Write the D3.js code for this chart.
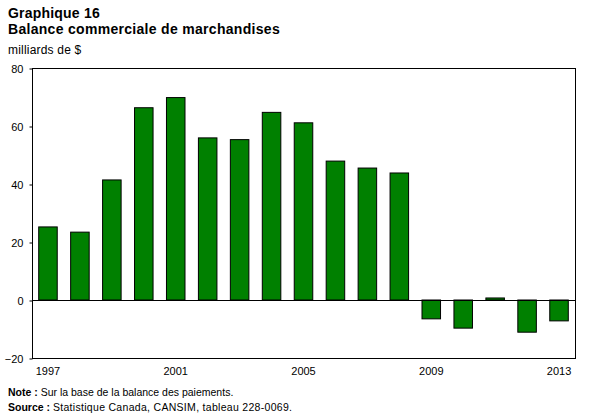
<!DOCTYPE html>
<html>
<head>
<meta charset="utf-8">
<script src="https://cdn.jsdelivr.net/npm/d3@7"></script>
<style>
body { margin: 0; background: #fff; }
svg { font-family: Arial, "Liberation Sans", sans-serif; }
</style>
</head>
<body>
<div id="chart"></div>
<script>
const width = 609, height = 418, margin = {top: 68, right: 34, bottom: 60, left: 32};

const years = ["1997", "1998", "1999", "2000", "2001", "2002", "2003", "2004", "2005",
    "2006", "2007", "2008", "2009", "2010", "2011", "2012", "2013"];
const balance = [25.2, 23.4, 41.4, 66.3, 69.8, 55.9, 55.3, 64.7, 61.1,
    47.9, 45.5, 43.8, -6.5, -9.7, 0.7, -11.1, -7.2];
const yTicks = [-20, 0, 20, 40, 60, 80];
const xLabels = ["1997", "2001", "2005", "2009", "2013"];

const svg = d3.select('#chart').append('svg')
    .attr('width', width)
    .attr('height', height);

const x = d3.scaleBand()
    .domain(years)
    .range([margin.left, width - margin.right])
    .paddingInner(0.42)
    .paddingOuter(0.21);

const y = d3.scaleLinear()
    .domain([-20, 80])
    .range([height - margin.bottom, margin.top]);

// titles
svg.append("text").attr("x", 8).attr("y", 18)
    .attr("font-size", 14).attr("font-weight", "bold").attr("letter-spacing", 0.2).text("Graphique 16");
svg.append("text").attr("x", 8).attr("y", 34)
    .attr("font-size", 14).attr("font-weight", "bold").attr("letter-spacing", 0.3).text("Balance commerciale de marchandises");
svg.append("text").attr("x", 8).attr("y", 54)
    .attr("font-size", 12).attr("letter-spacing", 0.2).text("milliards de $");

// bars
svg.append("g")
    .selectAll("rect")
    .data(balance)
    .enter().append("rect")
    .attr("x", (d, i) => x(years[i]))
    .attr("y", d => y(Math.max(0, d)))
    .attr("width", x.bandwidth())
    .attr("height", d => Math.abs(y(d) - y(0)))
    .attr("fill", "#008000")
    .attr("stroke", "#000")
    .attr("stroke-width", 1);

// zero line
svg.append("line")
    .attr("x1", margin.left).attr("x2", width - margin.right)
    .attr("y1", Math.round(y(0)) + 0.5).attr("y2", Math.round(y(0)) + 0.5)
    .attr("stroke", "#000");

// frame
svg.append("rect")
    .attr("x", margin.left + 0.5).attr("y", y(80) + 0.5)
    .attr("width", width - margin.right - margin.left)
    .attr("height", y(-20) - y(80))
    .attr("fill", "none")
    .attr("stroke", "#000");

// y axis
const yAxis = svg.append("g")
    .attr("transform", `translate(${margin.left + 0.5},0.5)`)
    .call(d3.axisLeft(y).tickValues(yTicks).tickSize(3).tickPadding(6));
yAxis.select(".domain").remove();
yAxis.selectAll("text").attr("font-size", 11).attr("font-family", "Arial, 'Liberation Sans', sans-serif");

// x axis labels
const xAxis = svg.append("g")
    .attr("transform", `translate(0,${height - margin.bottom})`)
    .call(d3.axisBottom(x).tickValues(xLabels).tickSize(0).tickPadding(9));
xAxis.select(".domain").remove();
xAxis.selectAll("text").attr("font-size", 11).attr("font-family", "Arial, 'Liberation Sans', sans-serif");

// notes
const note = svg.append("text").attr("x", 8).attr("y", 396).attr("font-size", 10.5);
note.append("tspan").attr("font-weight", "bold").text("Note : ");
note.append("tspan").text("Sur la base de la balance des paiements.");
const src = svg.append("text").attr("x", 8).attr("y", 411).attr("font-size", 10.5);
src.append("tspan").attr("font-weight", "bold").text("Source : ");
src.append("tspan").attr("letter-spacing", 0.3).text("Statistique Canada, CANSIM, tableau 228-0069.");
</script>
</body>
</html>
